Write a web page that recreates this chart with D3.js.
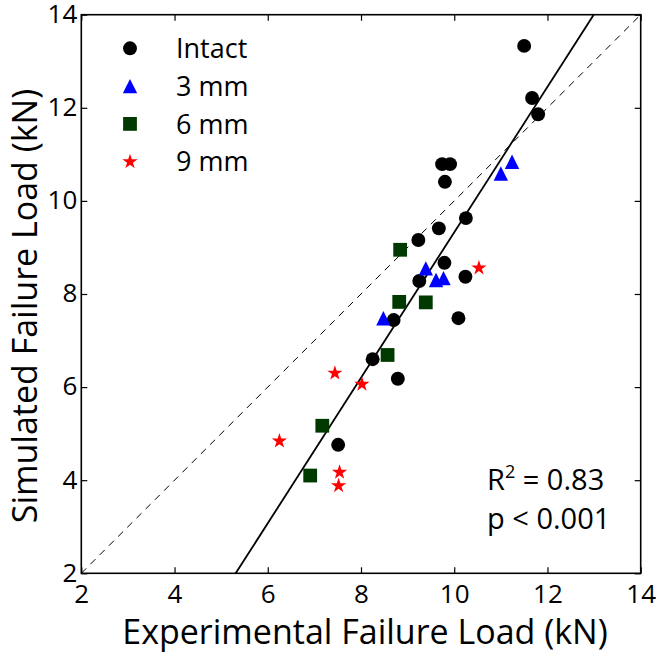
<!DOCTYPE html>
<html>
<head>
<meta charset="utf-8">
<script src="https://cdn.jsdelivr.net/npm/d3@7"></script>
<style>
html,body{margin:0;padding:0;background:#fff;}
svg{display:block;}
text{font-family:"Open Sans",sans-serif;fill:#000;}
</style>
</head>
<body>
<svg id="chart" width="661" height="659"></svg>
<script>
// ---- data ----
const seriesNames = ["Intact", "3 mm", "6 mm", "9 mm"];
const intactX = [11.50, 11.67, 11.80, 9.74, 9.91, 9.80, 10.25, 9.67, 9.23, 9.79, 9.25, 10.24, 8.70, 10.09, 8.25, 8.79, 7.51];
const intactY = [13.33, 12.21, 11.86, 10.79, 10.79, 10.41, 9.63, 9.41, 9.16, 8.67, 8.28, 8.37, 7.44, 7.48, 6.60, 6.18, 4.76];
const mm3X = [11.24, 11.00, 9.39, 9.61, 9.77, 8.48];
const mm3Y = [10.84, 10.59, 8.55, 8.30, 8.34, 7.48];
const mm6X = [8.84, 8.82, 9.39, 8.57, 7.17, 6.91];
const mm6Y = [8.95, 7.83, 7.82, 6.69, 5.17, 4.10];
const mm9X = [10.53, 7.44, 8.02, 6.25, 7.54, 7.52];
const mm9Y = [8.56, 6.30, 6.06, 4.84, 4.17, 3.88];
const fitSlope = 1.5625;
const fitIntercept = -6.30;
const xTicks = [2, 4, 6, 8, 10, 12, 14];
const yTicks = [2, 4, 6, 8, 10, 12, 14];
const annotR2 = "0.83";
const annotP = "p < 0.001";
const xTitle = "Experimental Failure Load (kN)";
const yTitle = "Simulated Failure Load (kN)";

// ---- layout ----
const svg = d3.select("#chart");
const L = 81.3, R = 640.7, T = 14.7, B = 573.3;
const x = d3.scaleLinear().domain([2, 14]).range([L, R]);
const y = d3.scaleLinear().domain([2, 14]).range([B, T]);

const styles = {
  "Intact": {color: "#000000", shape: "circle"},
  "3 mm": {color: "#0000ff", shape: "triangle"},
  "6 mm": {color: "#003a00", shape: "square"},
  "9 mm": {color: "#ff0000", shape: "star"}
};
function markerPath(shape) {
  if (shape === "circle") return d3.symbol(d3.symbolCircle, 152)();
  if (shape === "square") return d3.symbol(d3.symbolSquare, 190)();
  if (shape === "star") return d3.symbol(d3.symbolStar, 72)();
  const h = 7.2;
  return `M0,${-h}L${h},${h}L${-h},${h}Z`;
}

// clip
svg.append("defs").append("clipPath").attr("id", "clip")
  .append("rect").attr("x", L).attr("y", T).attr("width", R - L).attr("height", B - T);

const plot = svg.append("g").attr("clip-path", "url(#clip)");

// identity dashed line
plot.append("line")
  .attr("x1", x(2)).attr("y1", y(2)).attr("x2", x(14)).attr("y2", y(14))
  .attr("stroke", "#000").attr("stroke-width", 1).attr("stroke-dasharray", "7,6");

// regression line
const fx0 = (2 - fitIntercept) / fitSlope, fx1 = (14 - fitIntercept) / fitSlope;
plot.append("line")
  .attr("x1", x(fx0)).attr("y1", y(2)).attr("x2", x(fx1)).attr("y2", y(14))
  .attr("stroke", "#000").attr("stroke-width", 1.8);

// points
const allSeries = [
  {name: "Intact", xs: intactX, ys: intactY},
  {name: "3 mm", xs: mm3X, ys: mm3Y},
  {name: "6 mm", xs: mm6X, ys: mm6Y},
  {name: "9 mm", xs: mm9X, ys: mm9Y}
];
allSeries.forEach(s => {
  const st = styles[s.name];
  const pts = s.xs.map((v, i) => [v, s.ys[i]]);
  svg.append("g").selectAll("path").data(pts).join("path")
    .attr("d", markerPath(st.shape))
    .attr("transform", d => `translate(${x(d[0])},${y(d[1])})`)
    .attr("fill", st.color);
});

// axes (ticks inward on all sides)
const tickLen = 6;
const axB = svg.append("g").attr("transform", `translate(0,${B})`)
  .call(d3.axisBottom(x).tickValues(xTicks).tickSizeInner(-tickLen).tickSizeOuter(0).tickPadding(11).tickFormat(d3.format("d")));
const axT = svg.append("g").attr("transform", `translate(0,${T})`)
  .call(d3.axisTop(x).tickValues(xTicks).tickSizeInner(-tickLen).tickSizeOuter(0).tickFormat(""));
const axL = svg.append("g").attr("transform", `translate(${L},0)`)
  .call(d3.axisLeft(y).tickValues(yTicks).tickSizeInner(-tickLen).tickSizeOuter(0).tickPadding(4).tickFormat(d3.format("d")));
const axR = svg.append("g").attr("transform", `translate(${R},0)`)
  .call(d3.axisRight(y).tickValues(yTicks).tickSizeInner(-tickLen).tickSizeOuter(0).tickFormat(""));
[axB, axT, axL, axR].forEach(a => {
  a.select(".domain").remove();
  a.selectAll(".tick line").attr("stroke", "#000").attr("stroke-width", 1.2);
  a.selectAll("text").attr("font-family", "Open Sans").attr("font-size", 26).attr("fill", "#000");
});
axB.selectAll("text").attr("dy", "0.71em");
axL.selectAll("text").attr("dy", "0.3em");

// frame
svg.append("rect").attr("x", L).attr("y", T).attr("width", R - L).attr("height", B - T)
  .attr("fill", "none").attr("stroke", "#000").attr("stroke-width", 1.6);

// axis titles
svg.append("text").attr("x", 365).attr("y", 644)
  .attr("text-anchor", "middle").attr("font-size", 34).text(xTitle);
svg.append("text").attr("transform", `translate(37,306) rotate(-90)`)
  .attr("text-anchor", "middle").attr("font-size", 34).text(yTitle);

// legend
const leg = svg.append("g");
seriesNames.forEach((n, i) => {
  const yy = 48.3 + i * 37.8;
  const st = styles[n];
  leg.append("path").attr("d", markerPath(st.shape))
    .attr("transform", `translate(130,${yy})`).attr("fill", st.color);
  leg.append("text").attr("x", 176).attr("y", yy).attr("dy", "0.36em")
    .attr("font-size", 27).text(n);
});

// annotation
const ann = svg.append("text").attr("x", 487).attr("y", 490).attr("font-size", 29);
ann.append("tspan").text("R");
ann.append("tspan").attr("font-size", 18).attr("dy", -12).text("2");
ann.append("tspan").attr("dy", 12).text(" = " + annotR2);
svg.append("text").attr("x", 487).attr("y", 529).attr("font-size", 29).text(annotP);
</script>
</body>
</html>
